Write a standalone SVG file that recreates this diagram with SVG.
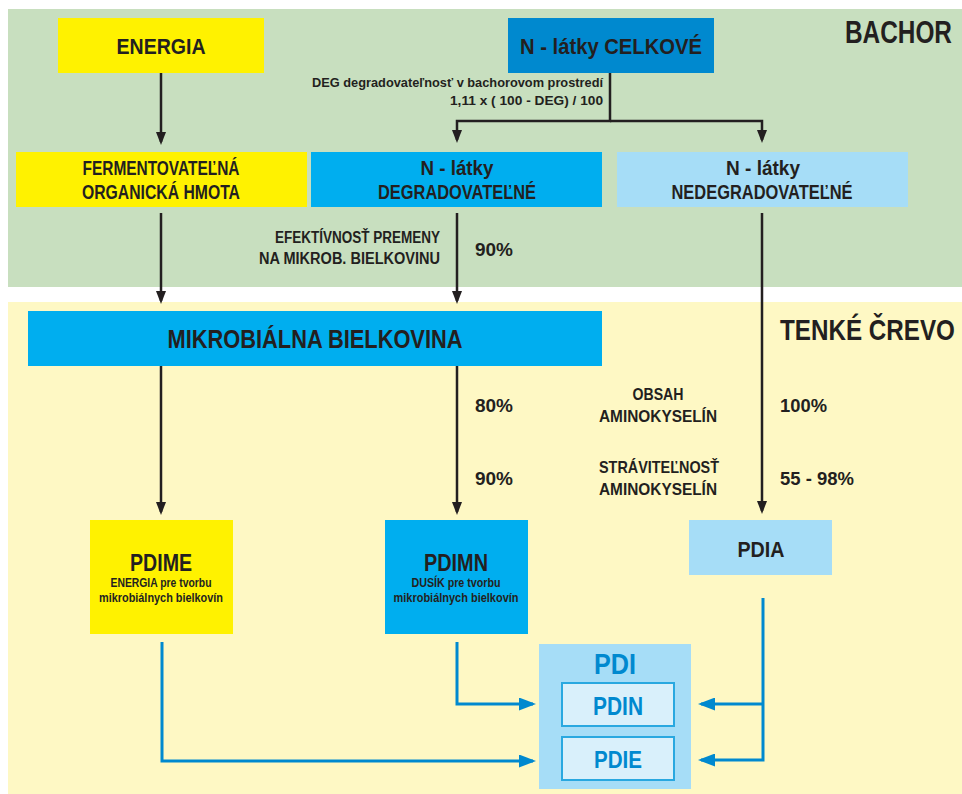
<svg xmlns="http://www.w3.org/2000/svg" width="962" height="794" viewBox="0 0 962 794">
<style>
text{font-family:"Liberation Sans",Arial,sans-serif;font-weight:bold;fill:#231f20}
.c{text-anchor:middle}
.r{text-anchor:end}
.yel{fill:#fff200}
.dblue{fill:#0089cf}
.mblue{fill:#00aeef}
.lblue{fill:#a6ddf7}
.bk{fill:none;stroke:#231f20;stroke-width:2.5}
.bl{fill:none;stroke:#0089cf;stroke-width:3}
.bt{fill:#0089cf}
</style>
<defs>
<marker id="ab" viewBox="0 0 13 10" markerWidth="13" markerHeight="10" refX="10" refY="5" orient="auto" markerUnits="userSpaceOnUse"><path d="M0,0 L13,5 L0,10 z" fill="#231f20"/></marker>
<marker id="abl" viewBox="0 0 17 13" markerWidth="17" markerHeight="13" refX="14" refY="6.5" orient="auto" markerUnits="userSpaceOnUse"><path d="M0,0 L17,6.5 L0,13 z" fill="#0089cf"/></marker>
</defs>
<rect x="0" y="0" width="962" height="794" fill="#ffffff"/>
<g id="zone-bachor">
<rect x="8" y="9" width="954" height="278" fill="#c8dfbf"/>
<text transform="translate(845,43) scale(0.79,1)" x="0" y="0" font-size="31" textLength="135.4" lengthAdjust="spacingAndGlyphs">BACHOR</text>
</g>
<g id="zone-crevo">
<rect x="8" y="302" width="954" height="492" fill="#fef8c4"/>
<text transform="translate(780,340) scale(0.83,1)" x="0" y="0" font-size="30" textLength="210.8" lengthAdjust="spacingAndGlyphs">TENKÉ ČREVO</text>
</g>
<g id="connectors">
<path class="bk" d="M161,73 V142" marker-end="url(#ab)"/>
<path class="bk" d="M610,73 V121 H457 V140" marker-end="url(#ab)"/>
<path class="bk" d="M610,121 H762 V140" marker-end="url(#ab)"/>
<path class="bk" d="M161,213 V301" marker-end="url(#ab)"/>
<path class="bk" d="M457,213 V301" marker-end="url(#ab)"/>
<path class="bk" d="M762,213 V511" marker-end="url(#ab)"/>
<path class="bk" d="M161,366 V512" marker-end="url(#ab)"/>
<path class="bk" d="M457,366 V512" marker-end="url(#ab)"/>
<path class="bl" d="M162,642 V761 H533" marker-end="url(#abl)"/>
<path class="bl" d="M457,642 V704 H533" marker-end="url(#abl)"/>
<path class="bl" d="M763,598 V760 H701" marker-end="url(#abl)"/>
<path class="bl" d="M763,704 H701" marker-end="url(#abl)"/>
</g>
<g id="labels">
<text x="603" y="87" font-size="13" class="r" textLength="291" lengthAdjust="spacingAndGlyphs">DEG  degradovateľnosť v bachorovom prostredí</text>
<text x="603" y="105" font-size="13" class="r" textLength="153" lengthAdjust="spacingAndGlyphs">1,11 x ( 100 - DEG) / 100</text>
<text x="440" y="243" font-size="16" class="r" textLength="165" lengthAdjust="spacingAndGlyphs">EFEKTÍVNOSŤ PREMENY</text>
<text x="440" y="264" font-size="16" class="r" textLength="181" lengthAdjust="spacingAndGlyphs">NA MIKROB. BIELKOVINU</text>
<text x="475" y="256" font-size="18" textLength="38" lengthAdjust="spacingAndGlyphs">90%</text>
<text x="475" y="412" font-size="18" textLength="38" lengthAdjust="spacingAndGlyphs">80%</text>
<text x="475" y="485" font-size="18" textLength="38" lengthAdjust="spacingAndGlyphs">90%</text>
<text x="658" y="400" font-size="17" class="c" textLength="51" lengthAdjust="spacingAndGlyphs">OBSAH</text>
<text x="658" y="422" font-size="17" class="c" textLength="118" lengthAdjust="spacingAndGlyphs">AMINOKYSELÍN</text>
<text x="659" y="473" font-size="17" class="c" textLength="120" lengthAdjust="spacingAndGlyphs">STRÁVITEĽNOSŤ</text>
<text x="658" y="495" font-size="17" class="c" textLength="118" lengthAdjust="spacingAndGlyphs">AMINOKYSELÍN</text>
<text x="780" y="412" font-size="18" textLength="47" lengthAdjust="spacingAndGlyphs">100%</text>
<text x="780" y="485" font-size="18" textLength="74" lengthAdjust="spacingAndGlyphs">55 - 98%</text>
</g>
<g id="energia">
<rect class="yel" x="58" y="18" width="206" height="55"/>
<text x="161" y="54" font-size="22" class="c" textLength="89" lengthAdjust="spacingAndGlyphs">ENERGIA</text>
</g>
<g id="n-celkove">
<rect class="dblue" x="508" y="18" width="206" height="55"/>
<text x="611" y="54" font-size="22" class="c" textLength="182" lengthAdjust="spacingAndGlyphs">N - látky CELKOVÉ</text>
</g>
<g id="fermentovatelna">
<rect class="yel" x="16" y="152" width="291" height="55"/>
<text x="161" y="175" font-size="20" class="c" textLength="157" lengthAdjust="spacingAndGlyphs">FERMENTOVATEĽNÁ</text>
<text x="161" y="199" font-size="20" class="c" textLength="158" lengthAdjust="spacingAndGlyphs">ORGANICKÁ HMOTA</text>
</g>
<g id="n-degradovatelne">
<rect class="mblue" x="311" y="152" width="291" height="55"/>
<text x="457" y="175" font-size="20" class="c" textLength="73" lengthAdjust="spacingAndGlyphs">N - látky</text>
<text x="457" y="199" font-size="20" class="c" textLength="158" lengthAdjust="spacingAndGlyphs">DEGRADOVATEĽNÉ</text>
</g>
<g id="n-nedegradovatelne">
<rect class="lblue" x="617" y="152" width="291" height="55"/>
<text x="763" y="175" font-size="20" class="c" textLength="74" lengthAdjust="spacingAndGlyphs">N - látky</text>
<text x="762" y="199" font-size="20" class="c" textLength="181" lengthAdjust="spacingAndGlyphs">NEDEGRADOVATEĽNÉ</text>
</g>
<g id="mikrobialna-bielkovina">
<rect class="mblue" x="28" y="311" width="574" height="55"/>
<text x="315" y="348" font-size="25" class="c" textLength="295" lengthAdjust="spacingAndGlyphs">MIKROBIÁLNA BIELKOVINA</text>
</g>
<g id="pdime">
<rect class="yel" x="90" y="520" width="143" height="114"/>
<text x="161" y="571" font-size="24" class="c" textLength="62" lengthAdjust="spacingAndGlyphs">PDIME</text>
<text x="161" y="587" font-size="12" class="c" textLength="101" lengthAdjust="spacingAndGlyphs">ENERGIA pre tvorbu</text>
<text x="161" y="602" font-size="12" class="c" textLength="124" lengthAdjust="spacingAndGlyphs">mikrobiálnych bielkovín</text>
</g>
<g id="pdimn">
<rect class="mblue" x="385" y="520" width="143" height="114"/>
<text x="456" y="571" font-size="24" class="c" textLength="64" lengthAdjust="spacingAndGlyphs">PDIMN</text>
<text x="456" y="587" font-size="12" class="c" textLength="89" lengthAdjust="spacingAndGlyphs">DUSÍK pre tvorbu</text>
<text x="456" y="602" font-size="12" class="c" textLength="125" lengthAdjust="spacingAndGlyphs">mikrobiálnych bielkovín</text>
</g>
<g id="pdia">
<rect class="lblue" x="689" y="520" width="143" height="55"/>
<text x="761" y="557" font-size="22" class="c" textLength="47" lengthAdjust="spacingAndGlyphs">PDIA</text>
</g>
<g id="pdi">
<rect class="lblue" x="539" y="644" width="152" height="145"/>
<text x="615" y="674" font-size="29" class="c bt" textLength="42" lengthAdjust="spacingAndGlyphs">PDI</text>
</g>
<g id="pdin">
<rect x="562" y="683" width="112" height="43" fill="#d9f0fb" stroke="#29a8e0" stroke-width="2"/>
<text x="618" y="715" font-size="25" class="c bt" textLength="50" lengthAdjust="spacingAndGlyphs">PDIN</text>
</g>
<g id="pdie">
<rect x="562" y="737" width="112" height="43" fill="#d9f0fb" stroke="#29a8e0" stroke-width="2"/>
<text x="618" y="768" font-size="24" class="c bt" textLength="48" lengthAdjust="spacingAndGlyphs">PDIE</text>
</g>
</svg>
